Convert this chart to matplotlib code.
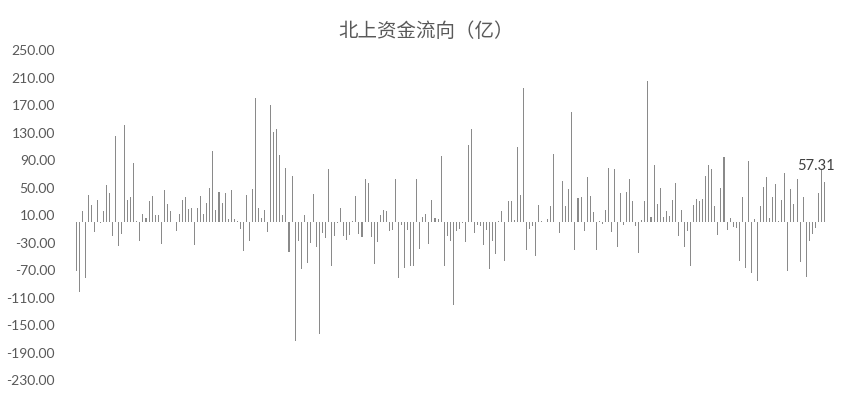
import numpy as np
import matplotlib
matplotlib.use("Agg")
import matplotlib.pyplot as plt
from matplotlib.ticker import FormatStrFormatter

# daily northbound net flow (100m CNY)
flows = [
    -71.8, -101.8, 15.5, -81, 38.8, 24.2, -14.5, 32.5, -1, 15.5,
    53.3, 42.4, -20.4, 124.6, -34.9, -17.5, 140.6, 32.5, 35.9, 85.4,
    1.5, -28, 11.2, 5.8, 31, 37.3, 9.7, 9.7, -32, 47,
    25.7, 16.5, -0.5, -13.6, 11.2, 32.5, 35.9, 19.4, 20.4, -34,
    20.4, 37.3, 11.2, 27.2, 49, 103.8, 18, 42.9, 27.2, 41.9,
    4.6, 45.7, 3.6, 1, -9.7, -41.7, 38.8, -28, 48, 180.6,
    19.9, 5.8, 18, -14.5, 169.9, 130.2, 135, 97.2, 9.7, 78.3,
    -43.6, 66.7, -173, -28, -68.9, 9.7, -59.7, -30.5, 41, -36.9,
    -162.5, -15.5, -22.8, 76.4, -64, -20.4, -2, 20.4, -20.4, -25.7,
    -18.9, 1.5, 37.3, -17.5, -22.3, 62.7, 56.4, -22.3, -61.1, -29,
    9.7, 18, 16.5, -12.6, -11.2, 62.7, -81, -3.9, -66.4, -11.2,
    -63.5, -63.5, 62.7, -38.8, 7.8, 11.2, -32, 32.5, 5.3, 3.6,
    96.2, -64.7, -20.4, -27.6, -121.2, -13.6, -10.7, -1, -29, 111.8,
    134.6, -15.5, -4.8, -5.8, -32.9, -12.1, -68.9, -27.6, -46, 1.5,
    16.5, -57.2, 29.8, 29.8, 2.6, 109.4, 38.8, 195, -41.2, -9.7,
    -5.8, -49, 24.2, 1.5, -0.5, 4.1, 22.7, 98.7, 0.5, -15.5,
    58.9, 22.7, 48.5, 160.3, -41.2, 35.2, 35.9, -12.6, 65.7, 37.3,
    14.1, -40.2, 1.5, -3.4, 18, 78.8, -14.5, 77.4, -36.4, 42.4,
    -3.9, 43.4, 62.7, 30.3, -5.8, -45.1, 2.1, 31, 204.7, 7.3,
    82.7, 25.7, 49, 7.3, 15.5, 8.3, 32.5, 56.4, -20.4, 18,
    -36.4, -13.1, -64.7, 24.7, 33, 31, 33.5, 66.7, 82.7, 76.9,
    22.7, -18.4, 49, 94.3, -12.1, 5.3, -7.3, -8.7, -56.7, 35.9,
    -66.9, 89, -73.7, 4.6, -85.8, 22.7, 50.5, 65.2, 6.3, 35.9,
    54.9, 1, 32.5, 70.6, -71.8, 48, 25.7, 62.7, -58.7, 35.9,
    -79.5, -27.6, -17.5, -8.7, 41.9, 77, 57.31,
]
y_ticks = np.arange(-230, 251, 40)

fig = plt.figure(figsize=(8.42, 4.11), dpi=100)
ax = fig.add_axes([0.0885, 0.0754, 0.8924, 0.8029])

x = np.arange(len(flows))
ax.bar(x, flows, width=0.34, color="#8a8a8a", linewidth=0)

ax.set_xlim(-0.5, len(flows) - 0.5)
ax.set_ylim(-230, 250)
ax.set_yticks(y_ticks)
ax.yaxis.set_major_formatter(FormatStrFormatter("%.2f"))
ax.set_xticks([])
ax.tick_params(axis="y", length=0, pad=14, labelsize=10, labelcolor="#595959")
for lbl in ax.get_yticklabels():
    lbl.set_family("Lato")
for s in ax.spines.values():
    s.set_visible(False)

# label on the latest value
ax.annotate(f"{flows[-1]:.2f}", xy=(x[-1], flows[-1]), xytext=(-6, 12),
            textcoords="offset points", ha="center", va="center",
            fontsize=10.5, color="#404040", family="Lato")

fig.text(426 / 842, 1 - 31.7 / 411, "北上资金流向（亿）", ha="center", va="center",
         fontsize=14, color="#595959", family=["Noto Sans CJK SC", "DejaVu Sans"])

fig.savefig("out.png", dpi=100)
